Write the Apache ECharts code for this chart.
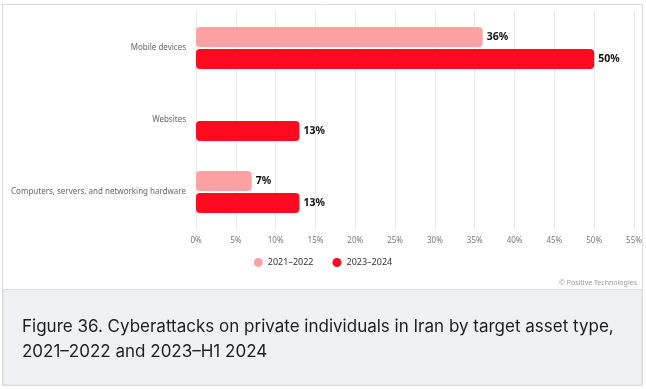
<!DOCTYPE html>
<html><head><meta charset="utf-8">
<script src="https://cdn.jsdelivr.net/npm/echarts@6/dist/echarts.min.js"></script>
<style>html,body{margin:0;padding:0;background:#fff;}#c{width:646px;height:389px;}</style>
</head><body><div id="c"></div>
<script>
const categories = ['Mobile devices', 'Websites', 'Computers, servers, and networking hardware'];
const series2122 = [36, null, 7];
const series2324 = [50, 13, 13];
const seriesNames = ['2021–2022', '2023–2024'];
const xTicks = [0, 5, 10, 15, 20, 25, 30, 35, 40, 45, 50, 55];
const captionLines = ['Figure 36. Cyberattacks on private individuals in Iran by target asset type,', '2021–2022 and 2023–H1 2024'];
const credit = '© Positive Technologies';

const chart = echarts.init(document.getElementById('c'), null, {renderer: 'canvas'});
const labelStyle = {show: true, position: 'right', distance: 4, formatter: p => p.value + '%', color: '#111', fontWeight: 'bold', fontSize: 10.5, fontFamily: 'Noto Sans'};
chart.setOption({
  animation: false,
  graphic: [
    {type: 'rect', z: -10, shape: {x: 2.5, y: 4.5, width: 640, height: 381}, style: {fill: '#fff', stroke: '#dcdcdc', lineWidth: 1}},
    {type: 'rect', z: -9, shape: {x: 3, y: 289.5, width: 639, height: 95.5}, style: {fill: '#f0f1f3', stroke: '#dcdcdc', lineWidth: 1}},
    {type: 'text', left: 22, top: 314, style: {text: captionLines.join('\n'), font: '17px Inter', fill: '#1e1e1e', lineHeight: 25}},
    {type: 'text', right: 9, top: 279, style: {text: credit, font: '7px "Noto Sans"', fill: '#9a9a9a'}}
  ],
  grid: {left: 196, right: 12, top: 12, height: 216, containLabel: false},
  xAxis: {
    type: 'value', min: 0, max: 55, interval: 5,
    axisLabel: {formatter: v => xTicks.includes(v) ? v + '%' : '', color: '#777', fontSize: 8, fontFamily: 'Noto Sans', margin: 9},
    splitLine: {show: true, lineStyle: {color: '#e8e8e8', width: 1}},
    axisLine: {show: false}, axisTick: {show: false}
  },
  yAxis: {
    type: 'category', data: categories, inverse: true,
    axisLabel: {color: '#666', fontSize: 8, fontFamily: 'Noto Sans', margin: 10},
    axisLine: {show: false}, axisTick: {show: false}
  },
  legend: {
    data: seriesNames, bottom: 117, left: 'center', icon: 'circle', itemWidth: 9, itemHeight: 9, itemGap: 19,
    textStyle: {color: '#333', fontSize: 9, fontFamily: 'Noto Sans'}
  },
  series: [
    {name: seriesNames[0], type: 'bar', data: series2122, barWidth: 20, barGap: '10%', itemStyle: {color: '#ffa1a4', borderRadius: 4}, label: labelStyle},
    {name: seriesNames[1], type: 'bar', data: series2324, barWidth: 20, itemStyle: {color: '#ff0a1f', borderRadius: 4}, label: labelStyle}
  ]
});
</script></body></html>
